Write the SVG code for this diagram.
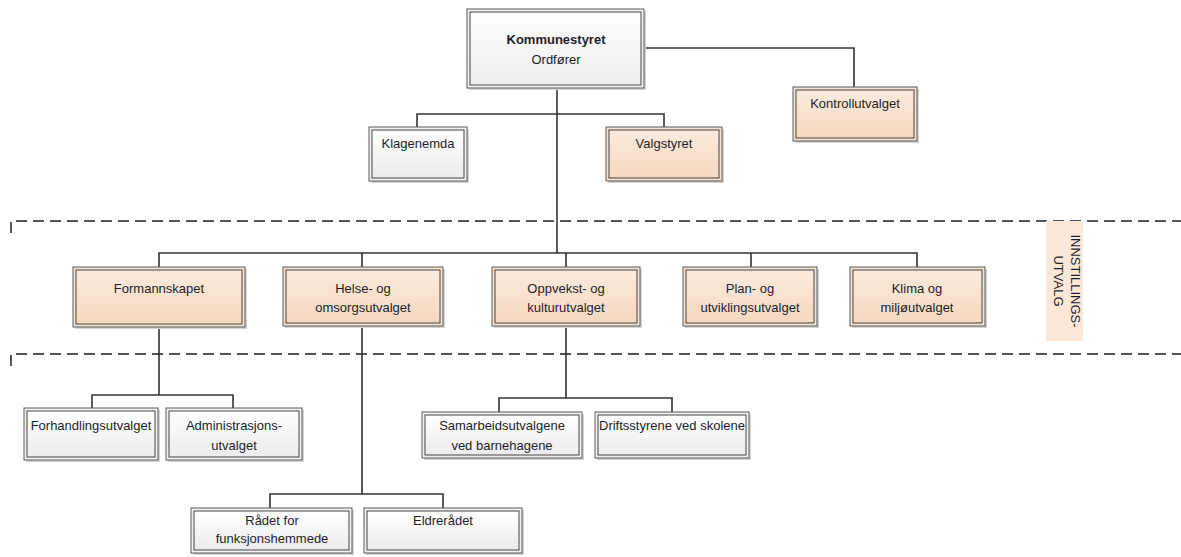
<svg xmlns="http://www.w3.org/2000/svg" width="1181" height="557" viewBox="0 0 1181 557">
<defs>
<linearGradient id="gGray" x1="0" y1="0" x2="0" y2="1"><stop offset="0" stop-color="#ffffff"/><stop offset="1" stop-color="#ececec"/></linearGradient>
<linearGradient id="gOr" x1="0" y1="0" x2="0" y2="1"><stop offset="0" stop-color="#fbeadd"/><stop offset="1" stop-color="#f5d8bf"/></linearGradient>
<style>
.sh{fill:#d4d4d4}
.og{fill:#f2f2f2;stroke:#5a5a5a;stroke-width:1}
.ig{fill:url(#gGray);stroke:#444;stroke-width:1}
.oo{fill:#f7e2d0;stroke:#5a5a5a;stroke-width:1}
.io{fill:url(#gOr);stroke:#444;stroke-width:1}
text{font-family:"Liberation Sans",Arial,sans-serif;font-size:13px;fill:#1e1e2a;text-anchor:middle}
.b{font-weight:bold}
.con{fill:none;stroke:#333;stroke-width:1.6}
.dash{fill:none;stroke:#555;stroke-width:2;stroke-dasharray:11 6}
</style>
</defs>
<g id="band">
<path class="dash" d="M11,233 V221 H1181"/>
<path class="dash" d="M11,366 V354 H1181"/>
<rect x="1046" y="221" width="37" height="120" fill="#fbe8d8"/>
<text transform="translate(1071,281) rotate(90)" font-size="14px">INNSTILLINGS-</text>
<text transform="translate(1054,281) rotate(90)" font-size="14px">UTVALG</text>
</g>
<g id="connectors">
<path class="con" d="M557,88 V253"/>
<path class="con" d="M644,48 H854 V87"/>
<path class="con" d="M417,127 V114 H664 V127"/>
<path class="con" d="M159,267 V253 H917 V267"/>
<path class="con" d="M362,253 V267 M566,253 V267 M751,253 V267"/>
<path class="con" d="M159,327 V395 M92,408 V395 H233 V408"/>
<path class="con" d="M566,326 V398 M499,412 V398 H672 V412"/>
<path class="con" d="M362,326 V494 M270,508 V494 H443 V508"/>
</g>
<g id="kommunestyret">
<rect class="sh" x="469" y="11" width="177" height="79"/>
<rect class="og" x="467" y="9" width="177" height="79"/>
<rect class="ig" x="470" y="12" width="171" height="73"/>
<text class="b" x="556" y="44">Kommunestyret</text>
<text x="556" y="64">Ordfører</text>
</g>
<g id="kontrollutvalget">
<rect class="sh" x="795" y="89" width="124" height="54"/>
<rect class="oo" x="793" y="87" width="124" height="54"/>
<rect class="io" x="796" y="90" width="118" height="48"/>
<text x="855" y="108">Kontrollutvalget</text>
</g>
<g id="klagenemda">
<rect class="sh" x="371" y="129" width="98" height="54"/>
<rect class="og" x="369" y="127" width="98" height="54"/>
<rect class="ig" x="372" y="130" width="92" height="48"/>
<text x="418" y="148">Klagenemda</text>
</g>
<g id="valgstyret">
<rect class="sh" x="608" y="129" width="116" height="54"/>
<rect class="oo" x="606" y="127" width="116" height="54"/>
<rect class="io" x="609" y="130" width="110" height="48"/>
<text x="664" y="148">Valgstyret</text>
</g>
<g id="formannskapet">
<rect class="sh" x="75" y="269" width="172" height="60"/>
<rect class="oo" x="73" y="267" width="172" height="60"/>
<rect class="io" x="76" y="270" width="166" height="54"/>
<text x="159" y="293">Formannskapet</text>
</g>
<g id="helse">
<rect class="sh" x="285" y="269" width="160" height="59"/>
<rect class="oo" x="283" y="267" width="160" height="59"/>
<rect class="io" x="286" y="270" width="154" height="53"/>
<text x="363" y="293">Helse- og</text>
<text x="363" y="312">omsorgsutvalget</text>
</g>
<g id="oppvekst">
<rect class="sh" x="494" y="269" width="148" height="59"/>
<rect class="oo" x="492" y="267" width="148" height="59"/>
<rect class="io" x="495" y="270" width="142" height="53"/>
<text x="566" y="293">Oppvekst- og</text>
<text x="566" y="312">kulturutvalget</text>
</g>
<g id="plan">
<rect class="sh" x="685" y="269" width="134" height="59"/>
<rect class="oo" x="683" y="267" width="134" height="59"/>
<rect class="io" x="686" y="270" width="128" height="53"/>
<text x="750" y="293">Plan- og</text>
<text x="750" y="312">utviklingsutvalget</text>
</g>
<g id="klima">
<rect class="sh" x="852" y="269" width="135" height="59"/>
<rect class="oo" x="850" y="267" width="135" height="59"/>
<rect class="io" x="853" y="270" width="129" height="53"/>
<text x="917" y="293">Klima og</text>
<text x="917" y="312">miljøutvalget</text>
</g>
<g id="forhandlingsutvalget">
<rect class="sh" x="26" y="410" width="134" height="52"/>
<rect class="og" x="24" y="408" width="134" height="52"/>
<rect class="ig" x="27" y="411" width="128" height="46"/>
<text x="91" y="430">Forhandlingsutvalget</text>
</g>
<g id="administrasjonsutvalget">
<rect class="sh" x="168" y="410" width="136" height="52"/>
<rect class="og" x="166" y="408" width="136" height="52"/>
<rect class="ig" x="169" y="411" width="130" height="46"/>
<text x="234" y="430">Administrasjons-</text>
<text x="234" y="450">utvalget</text>
</g>
<g id="samarbeidsutvalgene">
<rect class="sh" x="424" y="414" width="160" height="46"/>
<rect class="og" x="422" y="412" width="160" height="46"/>
<rect class="ig" x="425" y="415" width="154" height="40"/>
<text x="502" y="430">Samarbeidsutvalgene</text>
<text x="502" y="450">ved barnehagene</text>
</g>
<g id="driftsstyrene">
<rect class="sh" x="597" y="414" width="154" height="46"/>
<rect class="og" x="595" y="412" width="154" height="46"/>
<rect class="ig" x="598" y="415" width="148" height="40"/>
<text x="672" y="430">Driftsstyrene ved skolene</text>
</g>
<g id="raadet">
<rect class="sh" x="193" y="510" width="161" height="45"/>
<rect class="og" x="191" y="508" width="161" height="45"/>
<rect class="ig" x="194" y="511" width="155" height="39"/>
<text x="272" y="525">Rådet for</text>
<text x="272" y="543">funksjonshemmede</text>
</g>
<g id="eldreraadet">
<rect class="sh" x="366" y="510" width="158" height="45"/>
<rect class="og" x="364" y="508" width="158" height="45"/>
<rect class="ig" x="367" y="511" width="152" height="39"/>
<text x="443" y="525">Eldrerådet</text>
</g>
</svg>
